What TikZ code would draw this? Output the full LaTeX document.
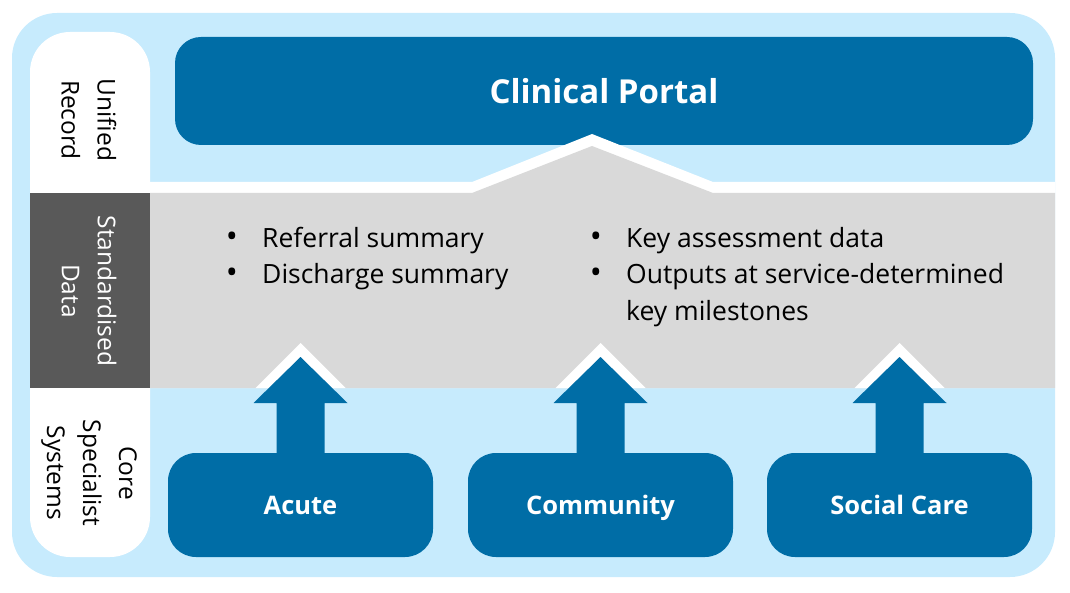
\documentclass[tikz,border=0pt]{standalone}
\usepackage{fontspec}
\setmainfont{Open Sans}

\definecolor{portalblue}{HTML}{006DA6}
\definecolor{paleblue}{HTML}{C7EBFD}
\definecolor{datagrey}{HTML}{D9D9D9}
\definecolor{labelgrey}{HTML}{595959}

\tikzset{
  system/.style={fill=portalblue, text=white, rounded corners=28pt,
    minimum width=265pt, minimum height=104pt, inner sep=0pt, outer sep=0pt,
    text height=21pt, text depth=3pt,
    font=\fontsize{25.5}{30}\selectfont\bfseries},
  rowlabel/.style={rotate=-90, align=center, font=\fontsize{24.5}{36}\selectfont},
  bullet/.style={anchor=base, inner sep=0pt, font=\fontsize{32}{36}\selectfont},
  item/.style={anchor=base west, inner sep=0pt, font=\fontsize{26.5}{36}\selectfont},
}

\begin{document}
\begin{tikzpicture}[x=1pt,y=-1pt]
      % Bounding box
      \useasboundingbox (0,0) rectangle (1070,593);

      % background and label column
      \fill[paleblue, rounded corners=45pt] (12,13) rectangle (1055,577);
      \fill[white, rounded corners=40pt] (30,32) rectangle (150,260);
      \fill[white, rounded corners=40pt] (30,320) rectangle (150,557);
      \fill[labelgrey] (30,193) rectangle (150,388);

      \node[rowlabel] (unified) at (89,120) {Unified\\Record};
      \node[rowlabel, text=white] (standard) at (89,291) {Standardised\\Data};
      \node[rowlabel] (core) at (89,473) {Core\\Specialist\\Systems};

      % top layer
      \node[fill=portalblue, text=white, rounded corners=26pt, minimum width=858pt,
        minimum height=108pt, inner sep=0pt,
        font=\fontsize{33}{40}\selectfont\bfseries] (portal) at (604,91) {Clinical Portal};

      % data band with its peak
      \fill[white] (150,182) -- (472,182) -- (592,134) -- (713,182) -- (1055,182)
        -- (1055,388) -- (150,388) -- cycle;
      \fill[datagrey] (150,193) -- (472,193) -- (592,146) -- (713,193) -- (1055,193)
        -- (1055,388) -- (150,388) -- cycle;

      \node[bullet] (b1) at (232,248) {•};
      \node[item] (referral) at (262,248) {Referral summary};
      \node[bullet] (b2) at (232,284) {•};
      \node[item] (discharge) at (262,284) {Discharge summary};
      \node[bullet] (b3) at (596,248) {•};
      \node[item] (assess) at (626,248) {Key assessment data};
      \node[bullet] (b4) at (596,284) {•};
      \node[item] (outputs) at (626,284) {Outputs at service-determined};
      \node[item] (milestones) at (626,320) {key milestones};

      % source systems
      \node[system] (acute) at (300.5,505) {Acute};
      \node[system] (community) at (600.5,505) {Community};
      \node[system] (social) at (899.5,505) {Social Care};

      \foreach \sys in {acute,community,social} {
        \fill[white] ([yshift=65pt]\sys.north) -- ++(-45,0) -- ++(45,-45) -- ++(45,45) -- cycle;
        \fill[portalblue] ([xshift=-24pt]\sys.north) -- ++(0,-50) -- ++(-23,0) -- ++(47,-46)
          -- ++(47,46) -- ++(-23,0) -- ++(0,50) -- cycle;
      }
    \end{tikzpicture}
\end{document}
